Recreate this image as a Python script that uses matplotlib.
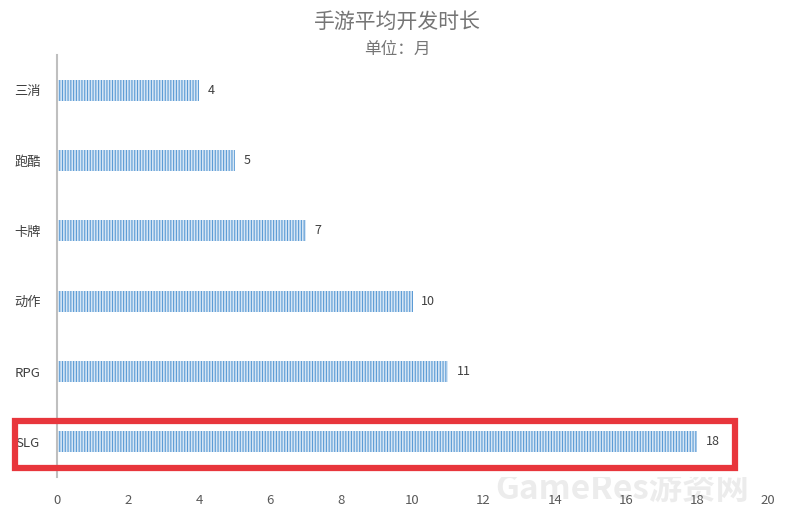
import matplotlib
matplotlib.use("Agg")
import matplotlib.pyplot as plt
from matplotlib.patches import Rectangle

plt.rcParams['font.family'] = ['Noto Sans CJK SC', 'DejaVu Sans']
plt.rcParams['hatch.linewidth'] = 0.8
plt.rcParams['hatch.color'] = '#5b9bd5'

# data
categories = ["三消", "跑酷", "卡牌", "动作", "RPG", "SLG"]
months = [4, 5, 7, 10, 11, 18]
xticks = [0, 2, 4, 6, 8, 10, 12, 14, 16, 18, 20]

fig = plt.figure(figsize=(7.99, 5.22), dpi=100)
ax = fig.add_axes([57 / 799, 1 - 477 / 522, (768 - 57) / 799, (477 - 55) / 522])

ypos = list(range(len(categories)))
ax.barh(ypos, months, height=0.3, color='#d6e6f5', edgecolor='#5b9bd5',
        linewidth=0, hatch='||||||')

# value labels at the bar ends
for y, v in zip(ypos, months):
    ax.text(v + 0.25, y, str(v), va='center', ha='left', fontsize=9, color='#404040')

ax.set_xlim(0, 20)
ax.set_ylim(len(categories) - 0.5, -0.5)
ax.set_yticks(ypos)
ax.set_yticklabels(categories, fontsize=9.5, color='#404040', ha='center')
ax.set_xticks(xticks)
ax.set_xticklabels([str(t) for t in xticks], fontsize=9.5, color='#595959')
ax.tick_params(axis='both', length=0)
ax.tick_params(axis='x', pad=12)
ax.tick_params(axis='y', pad=21)

for s in ['top', 'right', 'bottom']:
    ax.spines[s].set_visible(False)
ax.spines['left'].set_color('#bfbfbf')
ax.spines['left'].set_linewidth(1.5)

fig.text(397 / 799, 1 - 22 / 522, "手游平均开发时长", ha='center', va='center',
         fontsize=15, color='#757575')
fig.text(397 / 799, 1 - 49 / 522, "单位：月", ha='center', va='center',
         fontsize=12, color='#757575')

# red highlight box around SLG
fig.patches.append(Rectangle((15 / 799, 1 - 468 / 522), (735 - 15) / 799, (468 - 421) / 522,
                             transform=fig.transFigure, fill=False,
                             edgecolor='#e8363c', linewidth=4.5))

# watermark (faint, behind the tick labels)
fig.text(495 / 799, 1 - 490 / 522, "GameRes游资网", ha='left', va='center',
         fontsize=24, color='#ececec', fontweight='bold', zorder=-1)

fig.savefig("out.png", dpi=100)
